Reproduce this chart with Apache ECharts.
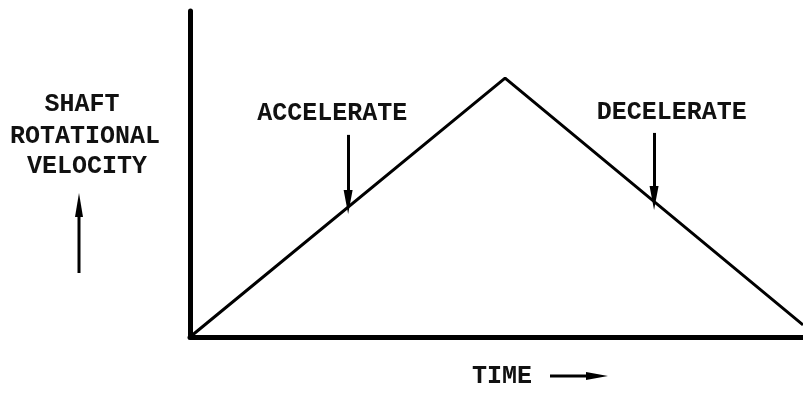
<!DOCTYPE html>
<html><head><meta charset="utf-8">
<script src="https://cdn.jsdelivr.net/npm/echarts@6/dist/echarts.min.js"></script>
<style>html,body{margin:0;padding:0;background:#fff}#c{width:803px;height:394px}</style>
</head><body><div id="c"></div>
<script>
// Data (time and velocity in relative units, 0-100)
const timeValues = [0, 51.4, 100];
const velocityValues = [0, 79.4, 3.7];
const phaseLabels = ['ACCELERATE', 'DECELERATE'];
const phaseLabelPos = [[23.2, 68.5], [78.6, 68.8]];
const phaseArrows = [[25.8, 62, 41.4], [75.7, 62.6, 42.6]];
const yTitle = ['SHAFT', 'ROTATIONAL', 'VELOCITY'];
const xTitle = 'TIME';

const fontStr = 'bold 25px "Liberation Mono"';
const font = {fontFamily: 'Liberation Mono', fontWeight: 'bold', fontSize: 25, color: '#111'};
const txt = (t, x, y) => ({type: 'text', style: {text: t, x: x, y: y, textAlign: 'center', textVerticalAlign: 'middle', fill: '#111', font: fontStr}});
const chart = echarts.init(document.getElementById('c'));
chart.setOption({
  animation: false,
  backgroundColor: '#fff',
  grid: {left: 190, right: 0, top: 11, bottom: 57},
  xAxis: {type: 'value', min: 0, max: 100,
    axisLine: {lineStyle: {color: '#000', width: 5}},
    axisTick: {show: false}, axisLabel: {show: false}, splitLine: {show: false}},
  yAxis: {type: 'value', min: 0, max: 100,
    axisLine: {show: true, lineStyle: {color: '#000', width: 5}},
    axisTick: {show: false}, axisLabel: {show: false}, splitLine: {show: false}},
  series: [{
    type: 'line', symbol: 'none',
    data: timeValues.map((t, i) => [t, velocityValues[i]]),
    lineStyle: {color: '#000', width: 3},
    markLine: {
      silent: true, symbol: ['none', 'triangle'], symbolSize: [9, 24],
      lineStyle: {color: '#000', width: 3, type: 'solid'},
      label: {show: false},
      data: phaseArrows.map(a => [{coord: [a[0], a[1]]}, {coord: [a[0], a[2]]}])
    },
    markPoint: {
      symbol: 'circle', symbolSize: 0,
      label: Object.assign({show: true, position: 'inside', formatter: p => p.name}, font),
      data: phaseLabels.map((n, i) => ({name: n, coord: phaseLabelPos[i]}))
    }
  }],
  graphic: [
    txt(yTitle[0], 82, 105),
    txt(yTitle[1], 85, 137),
    txt(yTitle[2], 87, 167),
    {type: 'line', shape: {x1: 79, y1: 273, x2: 79, y2: 210}, style: {stroke: '#000', lineWidth: 3}},
    {type: 'polygon', shape: {points: [[79, 193], [75, 217], [83, 217]]}, style: {fill: '#000'}},
    txt(xTitle, 502, 377),
    {type: 'line', shape: {x1: 550, y1: 376, x2: 592, y2: 376}, style: {stroke: '#000', lineWidth: 3}},
    {type: 'polygon', shape: {points: [[608, 376], [586, 372], [586, 380]]}, style: {fill: '#000'}}
  ]
});
</script></body></html>
